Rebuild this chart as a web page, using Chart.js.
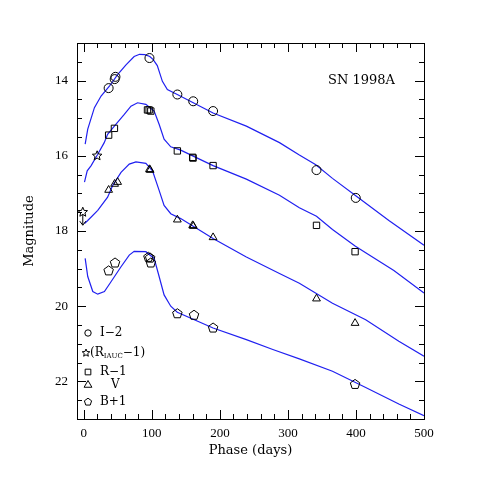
<!DOCTYPE html>
<html lang="pt-BR">
<head>
<meta charset="UTF-8">
<title>SN 1998A</title>
<script src="https://cdn.jsdelivr.net/npm/chart.js@4.4.1/dist/chart.umd.min.js"></script>
<style>
  html, body { margin: 0; padding: 0; background: #fff; }
  #caixa { width: 496px; height: 496px; }
</style>
</head>
<body>
<div id="caixa"><canvas id="grafico-sn1998a"></canvas></div>
<script>
// Curva de luz da SN 1998A: fotometria + modelos (azul)

// Pontos observados (fase em dias, magnitude)
const fasesI = [36.5, 45.4, 46.5, 96.5, 137.5, 160.8, 190, 342, 399.7];
const magsI = [14.2, 13.96, 13.9, 13.4, 14.37, 14.55, 14.81, 16.38, 17.12];

const fasesR = [36.5, 45, 93.6, 96, 98.5, 137.5, 160, 160.5, 190, 342, 398.7];
const magsR = [15.45, 15.27, 14.78, 14.78, 14.81, 15.87, 16.04, 16.06, 16.26, 17.85, 18.55];

const fasesRIAUC = [19.6];
const magsRIAUC = [16.0];
const fasesLimite = [-1.5];
const magsLimite = [17.5];

const fasesV = [36.5, 45.3, 49.7, 96.5, 97.5, 137.5, 160, 161, 190, 342, 398.7];
const magsV = [16.91, 16.75, 16.7, 16.36, 16.38, 17.7, 17.85, 17.87, 18.17, 19.8, 20.45];

const fasesB = [36.5, 45.9, 95, 97.5, 98.5, 137.5, 162, 190, 398.7];
const magsB = [19.06, 18.85, 18.7, 18.72, 18.85, 20.2, 20.24, 20.58, 22.08];

// Modelos (curvas azuis)
const fasesModeloI = [2, 5.8, 15.6, 25.4, 37.6, 49.7, 62, 74, 82, 90, 97, 102, 108, 115.5, 122.8, 137.4, 190, 238.9, 287.6, 316.8, 341, 365.5, 399.7, 448.4, 500];
const magsModeloI = [15.69, 15.29, 14.72, 14.41, 14.15, 13.84, 13.58, 13.36, 13.3, 13.31, 13.36, 13.44, 13.6, 14.02, 14.24, 14.37, 14.86, 15.21, 15.65, 15.98, 16.24, 16.6, 17.06, 17.72, 18.38];

const fasesModeloR = [1, 5, 10.8, 20.5, 30, 35, 44.9, 59.5, 69.3, 79, 91.2, 103.4, 110.7, 118, 127.8, 142.4, 190, 238.9, 287.6, 316.8, 342, 365.5, 398.7, 414.3, 455.7, 500];
const magsModeloR = [16.7, 16.4, 16.26, 15.96, 15.65, 15.43, 15.21, 14.9, 14.68, 14.59, 14.63, 14.81, 15.16, 15.56, 15.76, 15.85, 16.26, 16.62, 17.05, 17.38, 17.61, 17.96, 18.4, 18.58, 19.05, 19.65];

const fasesModeloV = [1, 5.8, 20.5, 35, 42.4, 54.7, 66.8, 76.6, 91.2, 101, 110.7, 118, 127.8, 142.4, 190, 238.9, 287.6, 316.8, 365.5, 414.3, 463, 500];
const magsModeloV = [17.8, 17.72, 17.45, 17.1, 16.79, 16.44, 16.22, 16.16, 16.2, 16.4, 16.92, 17.32, 17.54, 17.67, 18.2, 18.69, 19.13, 19.39, 19.92, 20.36, 20.93, 21.33];

const fasesModeloB = [2, 5.8, 13.2, 20.5, 30.3, 40, 54.7, 66.8, 74, 91.2, 103.4, 110.7, 118, 127.8, 137.4, 190, 238.9, 277.8, 316.8, 365.5, 414.3, 463, 500];
const magsModeloB = [18.73, 19.21, 19.61, 19.68, 19.61, 19.35, 18.95, 18.64, 18.54, 18.55, 18.73, 19.21, 19.7, 20.0, 20.16, 20.58, 20.89, 21.15, 21.4, 21.73, 22.16, 22.6, 22.91];

// Marcas dos eixos
const ticksX = [0, 20, 40, 60, 80, 100, 120, 140, 160, 180, 200, 220, 240, 260, 280, 300, 320, 340, 360, 380, 400, 420, 440, 460, 480, 500];
const rotulosX = [0, 100, 200, 300, 400, 500];
const ticksY = [13, 13.5, 14, 14.5, 15, 15.5, 16, 16.5, 17, 17.5, 18, 18.5, 19, 19.5, 20, 20.5, 21, 21.5, 22, 22.5, 23];
const rotulosY = [14, 16, 18, 20, 22];

const AZUL = '#2020f0';

// Junta fases e magnitudes em pontos {x, y}
function pares(fases, mags) {
    return fases.map((f, i) => ({ x: f, y: mags[i] }));
}

// Caminho de uma estrela de 5 pontas
function caminhoEstrela(ctx, cx, cy, raioExt) {
    const raioInt = raioExt * 0.45;
    ctx.beginPath();
    for (let i = 0; i < 10; i++) {
        const r = i % 2 === 0 ? raioExt : raioInt;
        const ang = -Math.PI / 2 + i * Math.PI / 5;
        const px = cx + r * Math.cos(ang), py = cy + r * Math.sin(ang);
        if (i === 0) ctx.moveTo(px, py); else ctx.lineTo(px, py);
    }
    ctx.closePath();
    ctx.stroke();
}

// Caminho de um pentágono
function caminhoPentagono(ctx, cx, cy, raio) {
    ctx.beginPath();
    for (let i = 0; i < 5; i++) {
        const ang = -Math.PI / 2 + i * 2 * Math.PI / 5;
        const px = cx + raio * Math.cos(ang), py = cy + raio * Math.sin(ang);
        if (i === 0) ctx.moveTo(px, py); else ctx.lineTo(px, py);
    }
    ctx.closePath();
    ctx.stroke();
}

// Seta para baixo (limite)
function caminhoSeta(ctx, cx, cy) {
    ctx.beginPath();
    ctx.moveTo(cx, cy + 2);
    ctx.lineTo(cx, cy + 13);
    ctx.moveTo(cx - 3, cy + 9);
    ctx.lineTo(cx, cy + 13);
    ctx.lineTo(cx + 3, cy + 9);
    ctx.stroke();
}

function serieObs(dados, estilo) {
    return {
        data: dados,
        showLine: false,
        pointStyle: estilo,
        pointRadius: 4.5,
        pointBorderWidth: 1,
        pointBorderColor: '#000',
        pointBackgroundColor: 'rgba(0,0,0,0)'
    };
}

// Séries com forma própria (desenhadas pelo plugin nas posições calculadas pelo Chart.js)
function serieForma(dados, forma) {
    return {
        data: dados,
        showLine: false,
        forma: forma,
        pointRadius: 0,
        pointHoverRadius: 0
    };
}

function serieModelo(dados) {
    return {
        data: dados,
        showLine: true,
        borderColor: AZUL,
        borderWidth: 1.2,
        pointRadius: 0,
        tension: 0,
        fill: false
    };
}

const pluginFormas = {
    id: 'formas',
    afterDatasetsDraw(chart) {
        const { ctx } = chart;
        ctx.save();
        ctx.strokeStyle = '#000';
        ctx.lineWidth = 1;
        chart.data.datasets.forEach((ds, i) => {
            if (!ds.forma) return;
            chart.getDatasetMeta(i).data.forEach(el => {
                if (ds.forma === 'pentagono') caminhoPentagono(ctx, el.x, el.y, 5);
                if (ds.forma === 'estrela') caminhoEstrela(ctx, el.x, el.y, 5);
                if (ds.forma === 'limite') {
                    caminhoEstrela(ctx, el.x, el.y, 5);
                    caminhoSeta(ctx, el.x, el.y);
                }
            });
        });
        ctx.restore();
    }
};

// Marcas internas nos quatro lados + moldura
const pluginMarcas = {
    id: 'marcas',
    afterDraw(chart) {
        const { ctx, chartArea: a, scales } = chart;
        ctx.save();
        ctx.strokeStyle = '#000';
        ctx.lineWidth = 1;
        ctx.beginPath();
        scales.x.ticks.forEach(t => {
            const px = Math.round(scales.x.getPixelForValue(t.value)) + 0.5;
            const tam = rotulosX.includes(t.value) ? 9 : 5;
            ctx.moveTo(px, a.bottom); ctx.lineTo(px, a.bottom - tam);
            ctx.moveTo(px, a.top); ctx.lineTo(px, a.top + tam);
        });
        scales.y.ticks.forEach(t => {
            const py = Math.round(scales.y.getPixelForValue(t.value)) + 0.5;
            const tam = rotulosY.includes(t.value) ? 9 : 5;
            ctx.moveTo(a.left, py); ctx.lineTo(a.left + tam, py);
            ctx.moveTo(a.right, py); ctx.lineTo(a.right - tam, py);
        });
        ctx.stroke();
        ctx.strokeRect(Math.round(a.left) + 0.5, Math.round(a.top) + 0.5, Math.round(a.right - a.left), Math.round(a.bottom - a.top));

        // Nome do objeto
        ctx.fillStyle = '#000';
        ctx.font = '13px "DejaVu Serif"';
        ctx.textAlign = 'right';
        ctx.textBaseline = 'middle';
        ctx.fillText('SN 1998A', a.right - 29, a.top + 38);
        ctx.restore();
    }
};

// Legenda no canto inferior esquerdo
const pluginLegenda = {
    id: 'legendaSN',
    afterDraw(chart) {
        const { ctx, chartArea: a } = chart;
        const xs = a.left + 11;
        const xt = a.left + 23;
        ctx.save();
        ctx.strokeStyle = '#000';
        ctx.fillStyle = 'rgba(0,0,0,0)';
        ctx.lineWidth = 1;
        const desenha = (estilo, raio, x, y) => {
            Chart.helpers.drawPoint(ctx, { pointStyle: estilo, rotation: 0, radius: raio, borderWidth: 1 }, x, y);
        };
        desenha('circle', 3.2, xs, a.bottom - 86);
        caminhoEstrela(ctx, xs - 2, a.bottom - 66, 4);
        desenha('rect', 4, xs, a.bottom - 47);
        desenha('triangle', 4.5, xs, a.bottom - 34);
        caminhoPentagono(ctx, xs, a.bottom - 17, 3.8);

        ctx.fillStyle = '#000';
        ctx.textAlign = 'left';
        ctx.textBaseline = 'middle';
        const fonte = '12px "DejaVu Serif"';
        ctx.font = fonte;
        ctx.fillText('I\u22122', xt, a.bottom - 86);
        ctx.fillText('R\u22121', xt, a.bottom - 47);
        ctx.fillText('V', xt + 11, a.bottom - 34);
        ctx.fillText('B+1', xt, a.bottom - 17);

        // (R_IAUC - 1) com subscrito
        let x = xs + 2;
        const y = a.bottom - 66;
        ctx.fillText('(R', x, y);
        x += ctx.measureText('(R').width;
        ctx.font = '7px "DejaVu Serif"';
        ctx.fillText('IAUC', x, y + 3);
        x += ctx.measureText('IAUC').width;
        ctx.font = fonte;
        ctx.fillText('\u22121)', x, y);
        ctx.restore();
    }
};

Chart.defaults.font.family = '"Liberation Serif", serif';
Chart.defaults.color = '#000';

function criarGrafico() {
    const ctx = document.getElementById('grafico-sn1998a');
    new Chart(ctx, {
        type: 'scatter',
        data: {
            datasets: [
                serieObs(pares(fasesI, magsI), 'circle'),
                serieObs(pares(fasesR, magsR), 'rect'),
                serieForma(pares(fasesRIAUC, magsRIAUC), 'estrela'),
                serieForma(pares(fasesLimite, magsLimite), 'limite'),
                serieObs(pares(fasesV, magsV), 'triangle'),
                serieForma(pares(fasesB, magsB), 'pentagono'),
                serieModelo(pares(fasesModeloI, magsModeloI)),
                serieModelo(pares(fasesModeloR, magsModeloR)),
                serieModelo(pares(fasesModeloV, magsModeloV)),
                serieModelo(pares(fasesModeloB, magsModeloB))
            ]
        },
        options: {
            responsive: true,
            maintainAspectRatio: false,
            animation: false,
            layout: { padding: { left: 20, right: 72, top: 43, bottom: 30 } },
            plugins: {
                legend: { display: false },
                tooltip: { enabled: false }
            },
            scales: {
                x: {
                    type: 'linear',
                    min: -10,
                    max: 500,
                    grid: { display: false, drawTicks: false },
                    border: { display: false },
                    afterBuildTicks: scale => { scale.ticks = ticksX.map(v => ({ value: v })); },
                    afterFit: scale => { scale.height = 47; },
                    ticks: {
                        autoSkip: false,
                        maxRotation: 0,
                        padding: 7,
                        font: { size: 13 },
                        callback: v => rotulosX.includes(v) ? String(v) : ''
                    },
                    title: {
                        display: true,
                        text: 'Phase (days)',
                        font: { family: '"DejaVu Serif"', size: 13 },
                        padding: { top: 2, bottom: 8 }
                    }
                },
                y: {
                    type: 'linear',
                    reverse: true,
                    min: 13,
                    max: 23,
                    grid: { display: false, drawTicks: false },
                    border: { display: false },
                    afterBuildTicks: scale => { scale.ticks = ticksY.map(v => ({ value: v })); },
                    afterFit: scale => { scale.width = 57; },
                    ticks: {
                        autoSkip: false,
                        padding: 9,
                        font: { size: 13 },
                        callback: v => rotulosY.includes(v) ? String(v) : ''
                    },
                    title: {
                        display: true,
                        text: 'Magnitude',
                        font: { family: '"DejaVu Serif"', size: 13 },
                        padding: { top: 2, bottom: 2 }
                    }
                }
            }
        },
        plugins: [pluginFormas, pluginMarcas, pluginLegenda]
    });
}

document.addEventListener('DOMContentLoaded', criarGrafico);
</script>
</body>
</html>
